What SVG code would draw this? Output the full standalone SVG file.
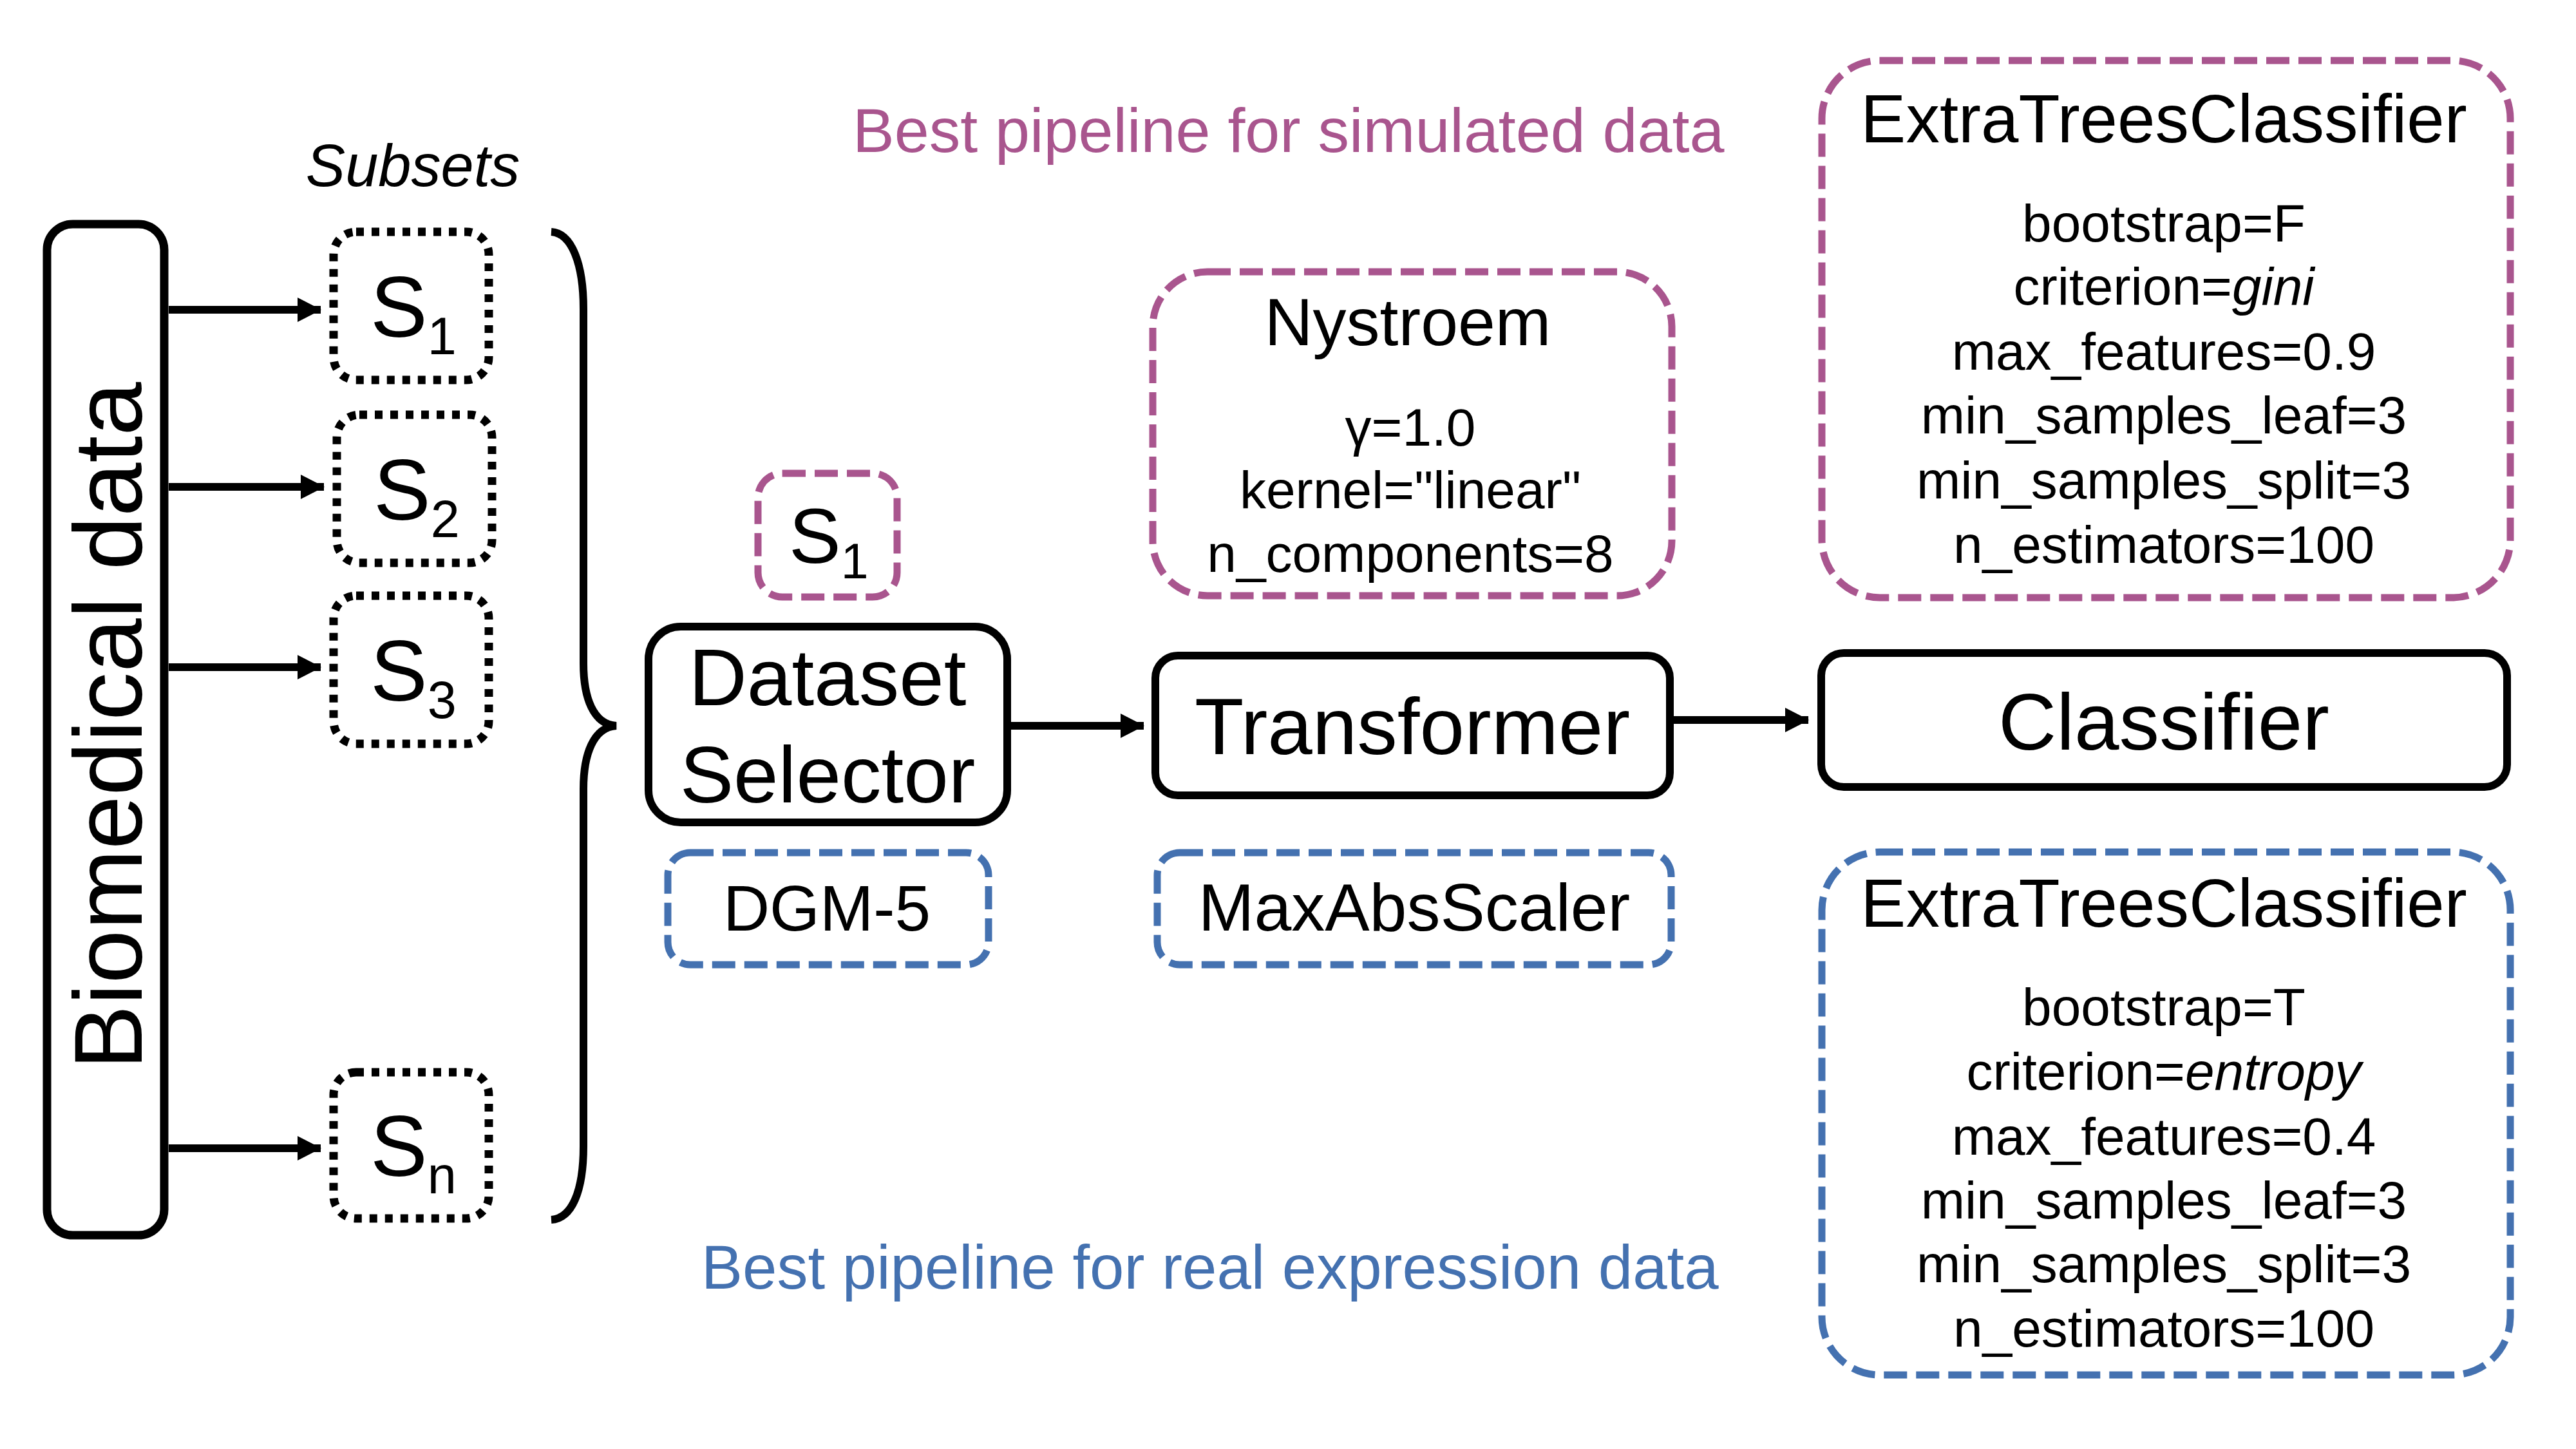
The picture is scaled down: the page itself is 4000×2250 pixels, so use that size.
<svg xmlns="http://www.w3.org/2000/svg" width="4000" height="2250" viewBox="0 0 4000 2250">
<defs>
<style>
text{font-family:"Liberation Sans",Arial,Helvetica,sans-serif;fill:#000}
.solid{fill:none;stroke:#000;stroke-width:12}
.dot{fill:none;stroke:#000;stroke-width:13;stroke-dasharray:12 12}
.pink{fill:none;stroke:#A9558E;stroke-width:11;stroke-dasharray:36 14}
.blue{fill:none;stroke:#4471B0;stroke-width:11;stroke-dasharray:36 14}
.conn{fill:none;stroke:#000;stroke-width:12}
.s{font-size:133px}
.sub{font-size:81px}
.big{font-size:125px;text-anchor:middle}
.title{font-size:105px;text-anchor:middle}
.param{font-size:82px;text-anchor:middle}
</style>
<marker id="ah" markerUnits="userSpaceOnUse" markerWidth="40" markerHeight="40" refX="36" refY="19" orient="auto">
<path d="M0,0 L37,19 L0,38 Z" fill="#000"/>
</marker>
</defs>
<rect width="4000" height="2250" fill="#fff"/>

<g id="connectors">
<line class="conn" x1="262" y1="481" x2="498" y2="481" marker-end="url(#ah)"/>
<line class="conn" x1="262" y1="756" x2="503" y2="756" marker-end="url(#ah)"/>
<line class="conn" x1="262" y1="1036" x2="498" y2="1036" marker-end="url(#ah)"/>
<line class="conn" x1="262" y1="1783" x2="498" y2="1783" marker-end="url(#ah)"/>
<line class="conn" x1="1570" y1="1127" x2="1776" y2="1127" marker-end="url(#ah)"/>
<line class="conn" x1="2599" y1="1118" x2="2808" y2="1118" marker-end="url(#ah)"/>
<path class="conn" d="M856,360 C888,362 906,410 906,480 L906,1030 C906,1085 922,1125 957,1127 C922,1129 906,1170 906,1225 L906,1780 C906,1850 888,1892 856,1894"/>
</g>

<g id="biomedical">
<rect class="solid" x="73" y="348" width="182" height="1570" rx="40" style="stroke-width:13"/>
<text transform="translate(220,1127) rotate(-90)" font-size="150" text-anchor="middle">Biomedical data</text>
</g>

<g id="subsets-label">
<text x="641" y="289" font-size="92" font-style="italic" text-anchor="middle">Subsets</text>
</g>

<g id="s1">
<rect class="dot" x="518" y="360" width="241" height="230" rx="35"/>
<text x="575" y="523" class="s">S<tspan class="sub" dy="27">1</tspan></text>
</g>
<g id="s2">
<rect class="dot" x="523" y="644" width="241" height="230" rx="35"/>
<text x="580" y="807" class="s">S<tspan class="sub" dy="27">2</tspan></text>
</g>
<g id="s3">
<rect class="dot" x="518" y="925" width="241" height="230" rx="35"/>
<text x="575" y="1088" class="s">S<tspan class="sub" dy="27">3</tspan></text>
</g>
<g id="sn">
<rect class="dot" x="518" y="1665" width="241" height="227" rx="35"/>
<text x="575" y="1826" class="s">S<tspan class="sub" dy="27">n</tspan></text>
</g>

<g id="best-simulated">
<text x="1324" y="236" font-size="97" style="fill:#A9558E">Best pipeline for simulated data</text>
</g>
<g id="best-real">
<text x="1089" y="2001" font-size="96" style="fill:#4471B0">Best pipeline for real expression data</text>
</g>

<g id="s1-selected">
<rect class="pink" x="1177" y="735" width="216" height="192" rx="38"/>
<text x="1225" y="874" font-size="121">S<tspan font-size="77" dy="24">1</tspan></text>
</g>

<g id="dataset-selector">
<rect class="solid" x="1007" y="973" width="557" height="304" rx="50"/>
<text x="1285" y="1095" class="big">Dataset</text>
<text x="1285" y="1246" class="big">Selector</text>
</g>

<g id="dgm5">
<rect class="blue" x="1037" y="1324" width="498" height="174" rx="35"/>
<text x="1284" y="1445" font-size="100" text-anchor="middle">DGM-5</text>
</g>

<g id="nystroem">
<rect class="pink" x="1790" y="422" width="806" height="503" rx="85"/>
<text x="2186" y="536" font-size="104" text-anchor="middle">Nystroem</text>
<text x="2190" y="692" class="param">γ=1.0</text>
<text x="2190" y="789" class="param">kernel="linear"</text>
<text x="2190" y="888" class="param">n_components=8</text>
</g>

<g id="transformer">
<rect class="solid" x="1794" y="1018" width="799" height="217" rx="35"/>
<text x="2193" y="1171" class="big">Transformer</text>
</g>

<g id="maxabsscaler">
<rect class="blue" x="1797" y="1324" width="798" height="174" rx="35"/>
<text x="2196" y="1445" font-size="104" text-anchor="middle">MaxAbsScaler</text>
</g>

<g id="extratrees-sim">
<rect class="pink" x="2829" y="94" width="1069" height="834" rx="90"/>
<text x="3360" y="221" class="title">ExtraTreesClassifier</text>
<text x="3360" y="375" class="param">bootstrap=F</text>
<text x="3360" y="473" class="param">criterion=<tspan font-style="italic">gini</tspan></text>
<text x="3360" y="574" class="param">max_features=0.9</text>
<text x="3360" y="673" class="param">min_samples_leaf=3</text>
<text x="3360" y="774" class="param">min_samples_split=3</text>
<text x="3360" y="874" class="param">n_estimators=100</text>
</g>

<g id="classifier">
<rect class="solid" x="2828" y="1014" width="1065" height="208" rx="35"/>
<text x="3360" y="1164" class="big">Classifier</text>
</g>

<g id="extratrees-real">
<rect class="blue" x="2829" y="1323" width="1069" height="812" rx="90"/>
<text x="3360" y="1439" class="title">ExtraTreesClassifier</text>
<text x="3360" y="1592" class="param">bootstrap=T</text>
<text x="3360" y="1692" class="param">criterion=<tspan font-style="italic">entropy</tspan></text>
<text x="3360" y="1793" class="param">max_features=0.4</text>
<text x="3360" y="1892" class="param">min_samples_leaf=3</text>
<text x="3360" y="1991" class="param">min_samples_split=3</text>
<text x="3360" y="2091" class="param">n_estimators=100</text>
</g>
</svg>
